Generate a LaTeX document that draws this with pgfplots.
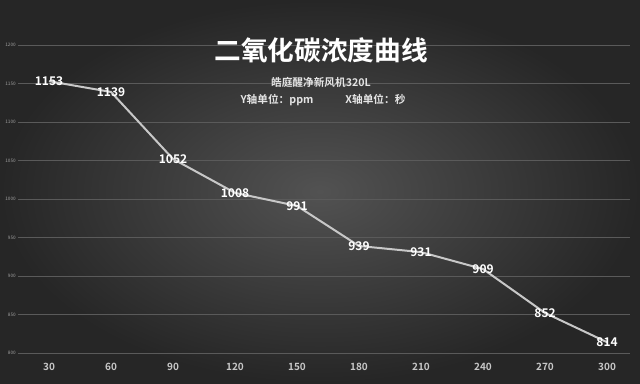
\documentclass[border=0pt]{standalone}
\usepackage{fontspec}
\usepackage{pgfplots}
\pgfplotsset{compat=1.18}
\setmainfont{Noto Sans CJK SC}
\newfontfamily\cjkb{Noto Sans CJK SC Bold}
\definecolor{bgin}{HTML}{525252}
\definecolor{bgout}{HTML}{262626}
\definecolor{gridc}{HTML}{5A5A5A}
\definecolor{linec}{HTML}{C8C8C8}
\pgfdeclarelayer{bg}
\pgfsetlayers{bg,main}
\begin{document}
\begin{tikzpicture}[x=0.75pt,y=0.75pt]
\begin{axis}[
  name=ax, at={(0,0)}, anchor=south west,
  scale only axis, width=459pt, height=231pt,
  xmin=-0.5, xmax=9.37, ymin=800, ymax=1200,
  xtick={0,...,9},
  xticklabels={30,60,90,120,150,180,210,240,270,300},
  ytick={800,850,...,1200},
  yticklabel style={font=\fontsize{3.5}{4}\selectfont, text=gray!75, anchor=east, inner sep=0pt, xshift=-1.5pt},
  xticklabel style={font=\cjkb\fontsize{7.5}{8}\selectfont, text=white!78!black, yshift=-4pt},
  /pgf/number format/assume math mode=true,
  /pgf/number format/1000 sep={},
  major tick length=0pt,
  ymajorgrids, grid style={gridc, line width=0.6pt},
  axis line style={draw=none},
  clip=false,
  nodes near coords,
  nodes near coords style={font=\cjkb\fontsize{9}{9}\selectfont, text=white, anchor=center},
  point meta=explicit symbolic,
]
\addplot[linec, line width=1.5pt, mark=none] table[meta=label] {
x y label
0 1153 1153
1 1139 1139
2 1052 1052
3 1008 1008
4 991 991
5 939 939
6 931 931
7 909 909
8 852 852
9 814 814
};
\end{axis}
\coordinate (O) at ([shift={(-18,-30)}]ax.south west);
\begin{pgfonlayer}{bg}
\shade[inner color=bgin, outer color=bgout] (O) rectangle ([shift={(640,383)}]O);
\end{pgfonlayer}
\node[text=white, font=\cjkb\fontsize{20}{20}\selectfont] at ([shift={(321,333)}]O) {二氧化碳浓度曲线};
\node[text=white!90!black, font=\cjkb\fontsize{8}{8}\selectfont] at ([shift={(321,301)}]O) {皓庭醒净新风机320L};
\node[text=white!90!black, font=\cjkb\fontsize{8}{8}\selectfont] at ([shift={(323,283)}]O) {Y轴单位：ppm\hspace{3em}X轴单位：秒};
\pgfresetboundingbox
\useasboundingbox (O) rectangle ([shift={(640,383)}]O);
\end{tikzpicture}
\end{document}
